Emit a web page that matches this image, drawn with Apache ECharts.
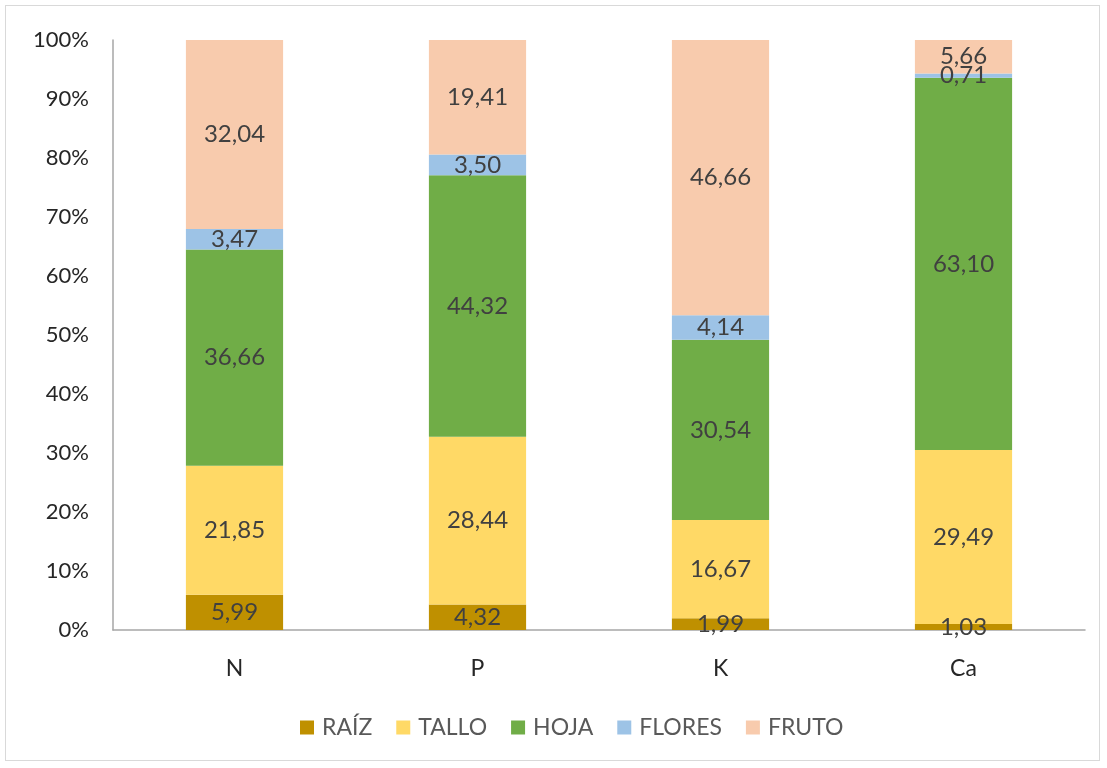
<!DOCTYPE html>
<html>
<head>
<meta charset="utf-8">
<script src="https://cdn.jsdelivr.net/npm/echarts@6/dist/echarts.min.js"></script>
<style>
  html, body { margin: 0; padding: 0; background: #fff; }
  #frame { position: absolute; left: 5px; top: 5px; width: 1095px; height: 756px; border: 1px solid #d9d9d9; box-sizing: border-box; }
  #chart { position: absolute; left: 0; top: 0; width: 1107px; height: 768px; }
</style>
</head>
<body>
<div id="frame"></div>
<div id="chart"></div>
<script>
  // categorias y valores (%)
  var categories = ['N', 'P', 'K', 'Ca'];
  var seriesNames = ['RAÍZ', 'TALLO', 'HOJA', 'FLORES', 'FRUTO'];
  var raiz = [5.99, 4.32, 1.99, 1.03];
  var tallo = [21.85, 28.44, 16.67, 29.49];
  var hoja = [36.66, 44.32, 30.54, 63.10];
  var flores = [3.47, 3.50, 4.14, 0.71];
  var fruto = [32.04, 19.41, 46.66, 5.66];
  var yTicks = [0, 10, 20, 30, 40, 50, 60, 70, 80, 90, 100];

  var colors = ['#BF9000', '#FFD966', '#70AD47', '#9DC3E6', '#F8CBAD'];
  var font = 'Lato, "Open Sans", sans-serif';

  var myChart = echarts.init(document.getElementById('chart'));
  var allData = [raiz, tallo, hoja, flores, fruto];

  var series = seriesNames.map(function (name, i) {
    return {
      name: name,
      type: 'bar',
      stack: 'total',
      barWidth: '40%',
      data: allData[i],
      itemStyle: { color: colors[i] },
      label: {
        show: true,
        position: 'inside',
        color: '#404040',
        fontSize: 24,
        fontFamily: font,
        formatter: function (p) {
          return p.value.toFixed(2).replace('.', ',');
        }
      }
    };
  });

  var option = {
    animation: false,
    backgroundColor: 'transparent',
    color: colors,
    grid: {
      left: 113,
      right: 22,
      top: 40,
      bottom: 138
    },
    legend: {
      data: seriesNames,
      bottom: 24,
      left: 295,
      itemWidth: 14,
      itemHeight: 14,
      itemGap: 24,
      icon: 'rect',
      textStyle: { color: '#595959', fontSize: 23, fontFamily: font, padding: [0, 0, 0, 3] }
    },
    xAxis: {
      type: 'category',
      data: categories,
      axisLine: { lineStyle: { color: '#a6a6a6', width: 1.5 } },
      axisTick: { show: false },
      axisLabel: { color: '#262626', fontSize: 23, fontFamily: font, margin: 27 }
    },
    yAxis: {
      type: 'value',
      min: 0,
      max: 100,
      interval: 10,
      splitLine: { show: false },
      axisLine: { show: true, lineStyle: { color: '#a6a6a6', width: 1.5 } },
      axisTick: { show: false },
      axisLabel: {
        color: '#262626',
        fontSize: 22,
        fontFamily: font,
        margin: 24,
        formatter: function (v) { return yTicks.indexOf(v) >= 0 ? v + '%' : ''; }
      }
    },
    series: series
  };
  myChart.setOption(option);
</script>
</body>
</html>
